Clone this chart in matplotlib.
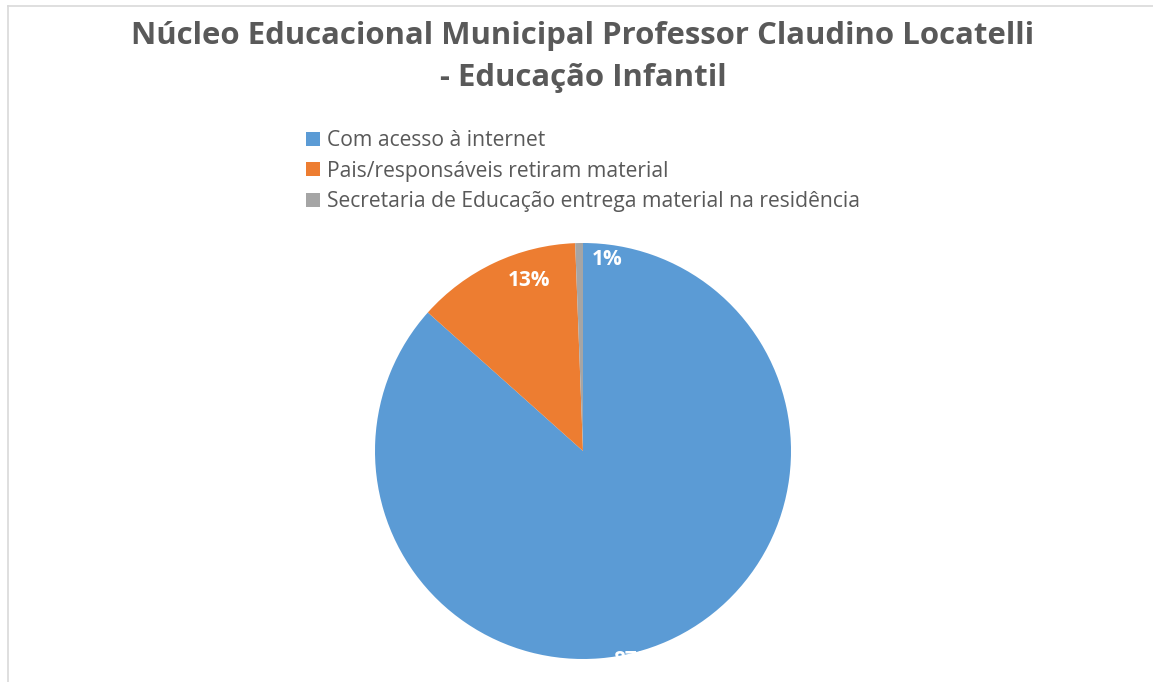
import matplotlib
matplotlib.use('Agg')
import matplotlib.pyplot as plt
from matplotlib.lines import Line2D

W, H = 1153, 682
TEXT = '#595959'
BLUE, ORANGE, GRAY = '#5B9BD5', '#ED7D31', '#A5A5A5'

labels = ['Com acesso à internet',
          'Pais/responsáveis retiram material',
          'Secretaria de Educação entrega material na residência']
values = [86.6, 12.8, 0.6]
colors = [BLUE, ORANGE, GRAY]
pct_text = ['87%', '13%', '1%']
# label positions (data coords, pie radius = 1)
label_xy = [(0.25, -1.005), (-0.26, 0.82), (0.116, 0.923)]

plt.rcParams['font.family'] = ['Open Sans', 'DejaVu Sans']

fig = plt.figure(figsize=(W / 100, H / 100), dpi=100, facecolor='white')

# thin frame lines (top and left) of the original chart area
fig.add_artist(Line2D([8 / W, 1], [1 - 6 / H, 1 - 6 / H], color='#d9d9d9', lw=1.2))
fig.add_artist(Line2D([8 / W, 8 / W], [0, 1 - 6 / H], color='#d9d9d9', lw=1.2))

# pie axes: centre (583,450), radius 208 px, clipped at y=662
cx, cy, r, clip_y = 583, 451, 208, 662
ax = fig.add_axes([(cx - r) / W, (H - clip_y) / H, 2 * r / W, (clip_y - (cy - r)) / H])
wedges, _ = ax.pie(values, colors=colors, startangle=90, counterclock=False,
                   radius=1, wedgeprops=dict(linewidth=0))
ax.set_xlim(-1, 1)
ax.set_ylim(-(clip_y - cy) / r, 1)
ax.set_aspect('auto')
ax.axis('off')
for (x, y), t in zip(label_xy, pct_text):
    ax.text(x, y, t, ha='center', va='center', color='white', fontsize=15,
            fontweight='bold', clip_on=True)

fig.text(583 / W, 1 - 36 / H, 'Núcleo Educacional Municipal Professor Claudino Locatelli',
         ha='center', va='center', fontsize=22.4, fontweight='bold', color=TEXT)
fig.text(583 / W, 1 - 78 / H, '- Educação Infantil',
         ha='center', va='center', fontsize=22.4, fontweight='bold', color=TEXT)

fig.legend(wedges, labels, loc='upper left', bbox_to_anchor=(306 / W, 1 - 130 / H),
           frameon=False, fontsize=15.2, labelcolor=TEXT, handlelength=0.65,
           handleheight=0.65, handletextpad=0.35, labelspacing=0.45,
           borderpad=0, borderaxespad=0)

fig.savefig('out.png', dpi=100, facecolor='white')
